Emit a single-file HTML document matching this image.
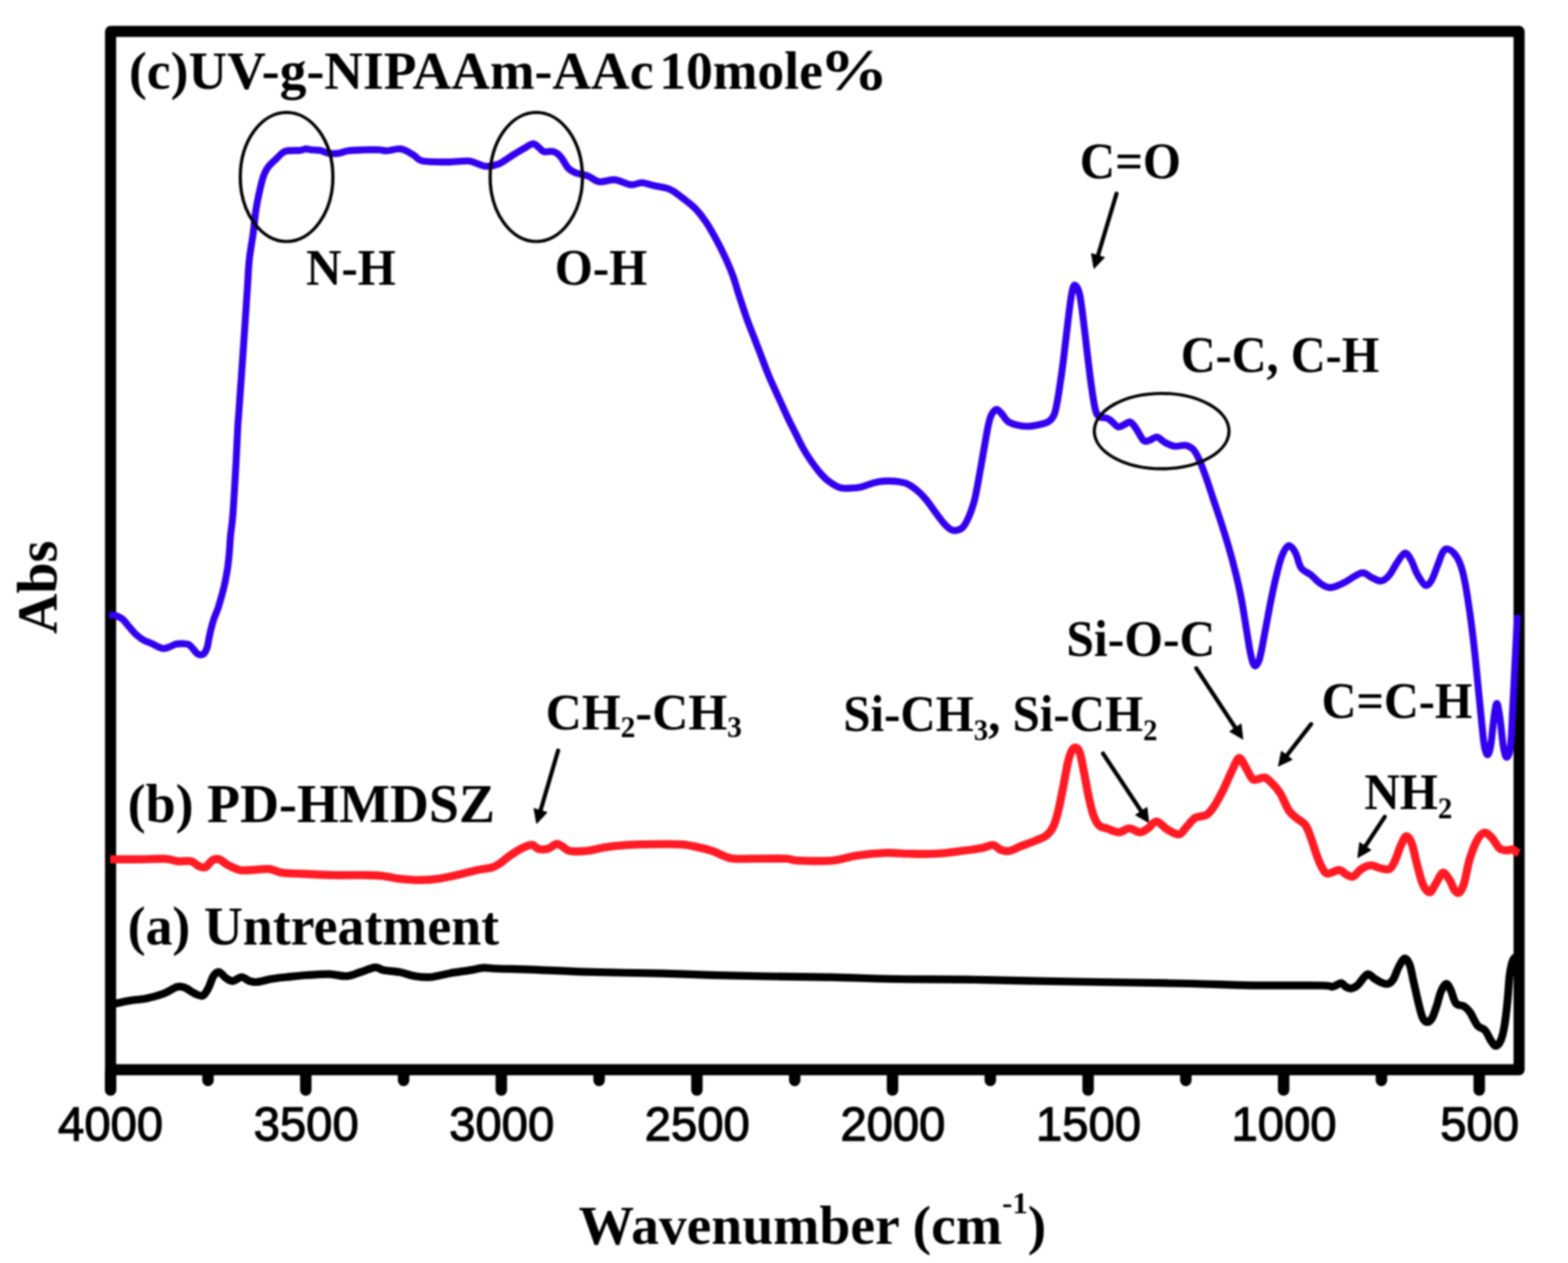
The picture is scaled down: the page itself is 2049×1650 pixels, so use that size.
<!DOCTYPE html>
<html lang="en">
<head>
<meta charset="utf-8">
<title>FTIR spectra</title>
<style>
html,body{margin:0;padding:0;background:#fff;}
body{width:2049px;height:1650px;overflow:hidden;}
svg{display:block;filter:blur(0.8px);}
</style>
</head>
<body>
<svg width="2049" height="1650" viewBox="0 0 2049 1650">
<rect width="2049" height="1650" fill="#fff"/>
<g id="frame" stroke="#000" fill="none" stroke-linecap="round" stroke-linejoin="round">
<rect x="144.5" y="41.1" width="1840.6" height="1356.4" stroke-width="14.5"/>
<line x1="1933.0" y1="1400.5" x2="1933.0" y2="1424" stroke-width="15"/>
<line x1="1677.4" y1="1400.5" x2="1677.4" y2="1424" stroke-width="15"/>
<line x1="1421.9" y1="1400.5" x2="1421.9" y2="1424" stroke-width="15"/>
<line x1="1166.3" y1="1400.5" x2="1166.3" y2="1424" stroke-width="15"/>
<line x1="910.7" y1="1400.5" x2="910.7" y2="1424" stroke-width="15"/>
<line x1="655.1" y1="1400.5" x2="655.1" y2="1424" stroke-width="15"/>
<line x1="399.6" y1="1400.5" x2="399.6" y2="1424" stroke-width="15"/>
<line x1="144.5" y1="1400.5" x2="144.5" y2="1424" stroke-width="15"/>
<line x1="1805.2" y1="1400.5" x2="1805.2" y2="1411.5" stroke-width="15"/>
<line x1="1549.6" y1="1400.5" x2="1549.6" y2="1411.5" stroke-width="15"/>
<line x1="1294.1" y1="1400.5" x2="1294.1" y2="1411.5" stroke-width="15"/>
<line x1="1038.5" y1="1400.5" x2="1038.5" y2="1411.5" stroke-width="15"/>
<line x1="782.9" y1="1400.5" x2="782.9" y2="1411.5" stroke-width="15"/>
<line x1="527.4" y1="1400.5" x2="527.4" y2="1411.5" stroke-width="15"/>
<line x1="271.8" y1="1400.5" x2="271.8" y2="1411.5" stroke-width="15"/>
</g>
<g id="ticks" font-family="'Liberation Sans', sans-serif" font-size="63.7" text-anchor="middle" fill="#000" stroke="#000" stroke-width="1.5">
<text transform="translate(1933.5 1490.3) scale(0.969 1)">500</text>
<text transform="translate(1677.9 1490.3) scale(0.969 1)">1000</text>
<text transform="translate(1422.4 1490.3) scale(0.969 1)">1500</text>
<text transform="translate(1166.8 1490.3) scale(0.969 1)">2000</text>
<text transform="translate(911.2 1490.3) scale(0.969 1)">2500</text>
<text transform="translate(655.6 1490.3) scale(0.969 1)">3000</text>
<text transform="translate(400.1 1490.3) scale(0.969 1)">3500</text>
<text transform="translate(144.5 1490.3) scale(0.969 1)">4000</text>
</g>
<g id="labels" font-family="'Liberation Serif', serif" font-weight="bold" fill="#000">
<text transform="translate(168.5 116) scale(1.0 1)" font-size="70">(c)UV-g-NIPAAm-AAc</text>
<text transform="translate(861.5 116) scale(1.0 1)" font-size="70">10mole</text>
<text transform="translate(1070.8 116.5) scale(1.17 1)" font-size="77">%</text>
<text transform="translate(166.7 1074.3) scale(0.987 1)" font-size="71.5">(b) PD-HMDSZ</text>
<text transform="translate(166.7 1233.8) scale(0.985 1)" font-size="71.5">(a) Untreatment</text>
<text transform="translate(400 372) scale(0.94 1)" font-size="68">N-H</text>
<text transform="translate(725 372) scale(0.94 1)" font-size="68">O-H</text>
<text transform="translate(1411 232.7) scale(0.94 1)" font-size="68">C=O</text>
<text transform="translate(1543 486) scale(0.928 1)" font-size="68">C-C, C-H</text>
<text transform="translate(1393.5 856.7) scale(0.954 1)" font-size="68">Si-O-C</text>
<text transform="translate(1727 938) scale(0.927 1)" font-size="68">C=C-H</text>
<text transform="translate(713 952.5) scale(0.962 1)" font-size="68">CH<tspan font-size="40" dy="10">2</tspan><tspan dy="-10">-CH</tspan><tspan font-size="40" dy="10">3</tspan></text>
<text transform="translate(1102 955) scale(0.94 1)" font-size="68">Si-CH<tspan font-size="40" dy="12">3</tspan><tspan dy="-12">, Si-CH</tspan><tspan font-size="40" dy="12">2</tspan></text>
<text transform="translate(1783 1057) scale(0.94 1)" font-size="68">NH<tspan font-size="40" dy="12">2</tspan></text>
<text transform="translate(756 1624.8) scale(1.009 1)" font-size="72">Wavenumber (cm<tspan font-size="40" dy="-40">-1</tspan><tspan dy="40">)</tspan></text>
<text transform="translate(74.2 828.2) rotate(-90) scale(0.975 1)" font-size="75">Abs</text>
</g>
<g id="arrows">
<line x1="1459.0" y1="253.0" x2="1434.8" y2="333.8" stroke="#000" stroke-width="5.4" stroke-linecap="round"/><polygon points="1429.6,351.0 1426.2,331.2 1443.4,336.3" fill="#000" stroke="#000" stroke-width="1" stroke-linejoin="round"/>
<line x1="729.3" y1="980.5" x2="706.4" y2="1058.7" stroke="#000" stroke-width="5.4" stroke-linecap="round"/><polygon points="701.3,1076.0 697.7,1056.2 715.0,1061.3" fill="#000" stroke="#000" stroke-width="1" stroke-linejoin="round"/>
<line x1="1441.4" y1="984.4" x2="1491.3" y2="1059.7" stroke="#000" stroke-width="5.4" stroke-linecap="round"/><polygon points="1501.2,1074.7 1483.8,1064.7 1498.8,1054.7" fill="#000" stroke="#000" stroke-width="1" stroke-linejoin="round"/>
<line x1="1563.2" y1="873.0" x2="1614.3" y2="950.7" stroke="#000" stroke-width="5.4" stroke-linecap="round"/><polygon points="1624.2,965.7 1606.8,955.6 1621.8,945.7" fill="#000" stroke="#000" stroke-width="1" stroke-linejoin="round"/>
<line x1="1713.3" y1="946.0" x2="1681.6" y2="986.8" stroke="#000" stroke-width="5.4" stroke-linecap="round"/><polygon points="1670.5,1001.0 1674.5,981.3 1688.7,992.3" fill="#000" stroke="#000" stroke-width="1" stroke-linejoin="round"/>
<line x1="1809.6" y1="1067.0" x2="1784.2" y2="1105.6" stroke="#000" stroke-width="5.4" stroke-linecap="round"/><polygon points="1774.3,1120.6 1776.7,1100.6 1791.7,1110.5" fill="#000" stroke="#000" stroke-width="1" stroke-linejoin="round"/>
</g>
<g id="curves" fill="none" stroke-linejoin="round" stroke-linecap="butt">
<path d="M146.0,1312.0C146.9,1311.8 147.5,1311.7 151.6,1310.9C155.7,1310.1 164.1,1308.1 170.7,1307.0C177.3,1305.9 183.8,1306.0 191.0,1304.5C198.2,1303.0 207.2,1300.5 214.0,1298.0C220.8,1295.5 227.1,1290.5 231.8,1289.2C236.5,1288.0 238.2,1289.0 242.0,1290.5C245.8,1292.0 250.9,1296.3 254.7,1298.0C258.5,1299.7 261.9,1302.0 264.9,1300.7C267.9,1299.5 270.2,1294.8 272.5,1290.5C274.8,1286.2 276.6,1278.6 278.9,1275.2C281.2,1271.8 283.8,1269.6 286.5,1270.0C289.2,1270.4 292.4,1275.9 295.4,1277.8C298.4,1279.7 300.9,1281.8 304.3,1281.6C307.7,1281.4 312.2,1276.5 315.8,1276.5C319.4,1276.5 322.6,1280.5 326.0,1281.6C329.4,1282.7 331.3,1283.3 336.0,1282.9C340.7,1282.5 347.6,1280.1 354.0,1279.0C360.4,1277.9 366.7,1277.3 374.3,1276.5C381.9,1275.7 390.5,1274.6 399.8,1274.0C409.1,1273.4 421.4,1272.5 430.3,1272.7C439.2,1272.9 446.2,1275.7 453.0,1275.2C459.8,1274.8 464.8,1271.9 471.0,1270.0C477.2,1268.1 484.9,1264.2 490.0,1263.8C495.1,1263.4 496.3,1266.6 501.6,1267.6C506.9,1268.6 515.2,1268.7 522.0,1270.0C528.8,1271.3 535.5,1274.1 542.3,1275.2C549.1,1276.3 555.1,1277.1 562.7,1276.5C570.3,1275.9 579.5,1272.9 588.0,1271.4C596.5,1269.9 606.3,1268.8 613.6,1267.6C620.9,1266.4 625.9,1264.8 632.0,1264.4C638.1,1264.1 638.7,1265.1 650.0,1265.5C661.3,1265.9 680.6,1266.1 699.6,1266.8C718.6,1267.5 736.7,1268.9 764.0,1269.7C791.3,1270.5 836.2,1271.0 863.5,1271.7C890.8,1272.4 904.6,1273.2 928.0,1273.8C951.4,1274.4 977.7,1275.0 1004.0,1275.5C1030.3,1276.0 1058.2,1276.1 1086.0,1276.7C1113.8,1277.3 1142.3,1278.5 1171.0,1279.0C1199.7,1279.5 1229.3,1279.2 1258.0,1279.6C1286.7,1280.0 1307.3,1280.8 1343.0,1281.4C1378.7,1282.1 1436.3,1282.9 1472.0,1283.5C1507.7,1284.1 1528.7,1284.4 1557.0,1285.0C1585.3,1285.6 1613.5,1286.9 1642.0,1287.3C1670.5,1287.7 1711.2,1287.2 1727.8,1287.5C1744.4,1287.8 1737.4,1289.5 1741.5,1289.0C1745.6,1288.5 1749.4,1284.4 1752.3,1284.4C1755.2,1284.5 1756.7,1288.2 1759.0,1289.3C1761.3,1290.4 1763.4,1291.8 1766.0,1291.3C1768.6,1290.8 1772.0,1288.9 1774.7,1286.4C1777.5,1284.0 1780.2,1278.9 1782.5,1276.6C1784.8,1274.3 1786.1,1272.4 1788.4,1272.7C1790.7,1273.0 1793.4,1276.8 1796.2,1278.6C1799.0,1280.4 1802.1,1282.4 1805.0,1283.5C1807.9,1284.6 1811.1,1286.1 1813.7,1285.4C1816.3,1284.8 1818.3,1283.2 1820.6,1279.6C1822.9,1276.0 1825.0,1268.6 1827.4,1264.0C1829.8,1259.4 1832.8,1252.9 1835.2,1252.2C1837.6,1251.5 1840.0,1255.1 1842.0,1260.0C1844.0,1264.9 1845.2,1273.7 1847.0,1281.5C1848.8,1289.3 1850.9,1299.2 1852.8,1307.0C1854.7,1314.8 1856.6,1323.7 1858.6,1328.4C1860.5,1333.1 1862.4,1334.9 1864.5,1335.2C1866.6,1335.5 1869.2,1333.7 1871.3,1330.3C1873.4,1326.9 1875.2,1320.5 1877.2,1314.7C1879.2,1308.9 1880.9,1300.1 1883.0,1295.2C1885.1,1290.3 1887.8,1285.7 1889.9,1285.4C1892.0,1285.1 1893.6,1289.0 1895.7,1293.2C1897.8,1297.4 1899.7,1307.2 1902.6,1310.8C1905.5,1314.4 1910.2,1312.8 1913.3,1314.7C1916.4,1316.7 1918.1,1318.3 1921.0,1322.5C1923.9,1326.7 1927.6,1336.1 1930.9,1340.0C1934.2,1343.9 1937.7,1342.7 1940.6,1346.0C1943.5,1349.3 1946.1,1356.2 1948.4,1359.6C1950.7,1363.0 1952.2,1366.4 1954.3,1366.4C1956.4,1366.4 1959.0,1364.0 1961.0,1359.6C1963.0,1355.2 1964.5,1348.8 1966.0,1340.0C1967.5,1331.2 1968.9,1318.0 1970.0,1307.0C1971.1,1296.0 1971.7,1282.2 1972.8,1273.7C1973.9,1265.2 1975.1,1260.1 1976.5,1256.0C1977.9,1251.9 1980.2,1250.2 1981.0,1249.0" stroke="#000" stroke-width="10.2"/>
<path d="M144.0,1122.6C150.2,1122.6 168.9,1122.7 181.0,1122.6C193.1,1122.5 208.0,1121.6 216.5,1122.0C225.0,1122.4 226.3,1124.6 231.8,1125.1C237.3,1125.6 244.9,1124.0 249.6,1125.1C254.3,1126.2 256.6,1130.2 259.8,1131.5C263.0,1132.8 265.7,1134.0 268.7,1132.7C271.7,1131.4 274.6,1125.5 277.6,1123.8C280.6,1122.1 283.1,1121.5 286.5,1122.6C289.9,1123.7 293.5,1127.9 298.0,1130.2C302.5,1132.5 308.2,1135.5 313.3,1136.6C318.4,1137.7 322.1,1136.8 328.5,1136.6C334.9,1136.4 344.6,1134.7 351.4,1135.3C358.2,1135.9 361.6,1139.2 369.2,1140.3C376.8,1141.3 386.2,1141.1 397.2,1141.6C408.2,1142.1 422.7,1143.0 435.4,1143.3C448.1,1143.6 463.0,1143.1 473.6,1143.3C484.2,1143.5 490.9,1143.4 499.0,1144.2C507.1,1145.0 513.9,1147.1 522.0,1148.0C530.1,1148.9 538.9,1149.8 547.4,1149.8C555.9,1149.8 564.4,1149.2 572.9,1148.0C581.4,1146.8 589.8,1144.8 598.3,1142.9C606.8,1141.0 616.4,1138.2 623.8,1136.6C631.2,1135.0 637.8,1134.7 642.7,1133.3C647.6,1131.9 649.6,1130.5 653.0,1128.3C656.4,1126.1 659.2,1123.1 663.0,1120.3C666.8,1117.5 671.5,1114.1 675.8,1111.6C680.0,1109.1 685.1,1106.6 688.5,1105.3C691.9,1104.0 693.7,1103.4 696.2,1104.0C698.8,1104.6 700.4,1108.3 703.8,1109.1C707.2,1109.9 712.7,1109.7 716.5,1108.6C720.3,1107.5 723.7,1103.2 726.7,1102.7C729.7,1102.2 731.3,1103.8 734.3,1105.3C737.3,1106.8 739.0,1110.5 744.5,1111.6C750.0,1112.6 758.9,1112.5 767.4,1111.6C775.9,1110.7 784.4,1107.7 795.4,1106.3C806.4,1104.9 820.9,1103.9 833.6,1103.3C846.3,1102.7 862.1,1102.7 871.8,1102.7C881.5,1102.7 885.6,1102.7 892.0,1103.3C898.4,1103.9 903.6,1104.9 910.0,1106.3C916.4,1107.7 924.4,1109.6 930.3,1111.6C936.2,1113.5 940.9,1116.3 945.6,1118.0C950.3,1119.7 951.5,1121.2 958.3,1121.8C965.1,1122.4 974.8,1121.8 986.3,1121.8C997.8,1121.8 1017.7,1121.4 1027.0,1121.8C1036.3,1122.2 1032.1,1123.9 1042.3,1124.3C1052.5,1124.7 1075.4,1125.3 1088.0,1124.3C1100.6,1123.2 1106.6,1119.7 1118.0,1118.0C1129.4,1116.3 1144.9,1114.7 1156.4,1114.2C1167.9,1113.8 1176.0,1115.1 1187.0,1115.3C1198.0,1115.5 1210.7,1115.9 1222.5,1115.3C1234.3,1114.7 1247.8,1112.8 1258.0,1111.6C1268.2,1110.3 1277.0,1109.1 1283.6,1107.8C1290.2,1106.5 1293.6,1103.6 1297.6,1104.0C1301.6,1104.4 1304.2,1109.0 1307.8,1110.3C1311.4,1111.6 1314.5,1112.4 1319.0,1111.6C1323.5,1110.8 1328.5,1107.6 1334.5,1105.3C1340.5,1103.0 1349.4,1099.9 1354.9,1097.6C1360.4,1095.3 1364.0,1094.3 1367.6,1091.3C1371.2,1088.3 1374.0,1085.1 1376.5,1079.8C1379.0,1074.5 1380.8,1067.8 1382.9,1059.3C1385.0,1050.8 1387.1,1039.5 1389.2,1028.9C1391.3,1018.3 1393.7,1003.8 1395.6,995.8C1397.5,987.8 1399.0,983.8 1400.7,980.6C1402.4,977.4 1404.1,976.3 1405.8,976.7C1407.5,977.1 1409.2,978.2 1410.9,983.1C1412.6,988.0 1414.1,996.7 1416.0,1006.0C1417.9,1015.3 1420.2,1029.3 1422.3,1039.1C1424.4,1048.9 1426.4,1058.0 1428.7,1064.6C1431.0,1071.2 1433.3,1075.6 1436.3,1078.6C1439.3,1081.5 1442.2,1080.8 1446.5,1082.3C1450.8,1083.8 1456.9,1087.3 1461.8,1087.3C1466.7,1087.3 1471.1,1082.3 1475.8,1082.3C1480.5,1082.3 1485.8,1087.3 1489.8,1087.3C1493.8,1087.3 1496.4,1084.6 1500.0,1082.3C1503.6,1080.0 1507.2,1073.1 1511.4,1073.3C1515.6,1073.5 1520.5,1080.8 1525.4,1083.6C1530.3,1086.4 1536.5,1090.6 1540.7,1090.0C1545.0,1089.4 1547.4,1083.4 1550.9,1079.8C1554.5,1076.2 1557.7,1070.8 1562.0,1068.3C1566.3,1065.8 1572.5,1067.0 1576.6,1064.6C1580.7,1062.1 1582.7,1059.1 1586.4,1053.6C1590.1,1048.1 1594.5,1039.7 1598.6,1031.6C1602.7,1023.5 1607.3,1011.7 1610.8,1004.8C1614.2,997.9 1616.5,990.6 1619.3,990.2C1622.1,989.8 1624.8,997.6 1627.8,1002.3C1630.8,1007.0 1633.5,1016.0 1637.6,1018.3C1641.7,1020.5 1648.1,1015.0 1652.2,1015.8C1656.3,1016.6 1658.5,1019.6 1662.0,1023.1C1665.5,1026.5 1669.3,1030.6 1673.0,1036.5C1676.7,1042.4 1680.5,1053.2 1684.0,1058.5C1687.5,1063.8 1690.0,1065.0 1693.7,1068.3C1697.4,1071.5 1702.6,1073.5 1705.9,1078.0C1709.2,1082.5 1710.8,1088.6 1713.3,1095.1C1715.8,1101.6 1718.2,1110.6 1720.6,1117.1C1723.0,1123.6 1725.5,1130.1 1727.9,1134.1C1730.3,1138.1 1731.5,1140.9 1735.2,1141.3C1738.9,1141.7 1745.8,1136.4 1749.9,1136.6C1754.0,1136.8 1756.5,1141.3 1759.6,1142.7C1762.6,1144.1 1765.0,1146.3 1768.2,1145.1C1771.4,1143.9 1775.2,1137.7 1779.0,1135.3C1782.8,1132.9 1787.2,1130.7 1791.3,1130.5C1795.4,1130.3 1799.4,1133.3 1803.5,1134.1C1807.6,1134.9 1812.5,1136.9 1815.7,1135.3C1819.0,1133.7 1820.5,1129.4 1823.0,1124.3C1825.5,1119.2 1828.0,1110.1 1830.4,1104.8C1832.9,1099.5 1835.3,1093.0 1837.7,1092.6C1840.1,1092.2 1842.6,1095.8 1845.0,1102.3C1847.4,1108.8 1849.8,1122.7 1852.3,1131.7C1854.8,1140.7 1857.0,1150.4 1859.7,1156.1C1862.4,1161.8 1865.4,1166.2 1868.2,1165.8C1871.0,1165.4 1873.9,1157.9 1876.7,1153.6C1879.5,1149.3 1882.5,1141.0 1885.3,1140.2C1888.1,1139.4 1891.2,1145.0 1893.8,1148.8C1896.4,1152.6 1898.8,1160.5 1901.0,1163.3C1903.2,1166.1 1905.2,1167.4 1907.2,1165.8C1909.2,1164.2 1911.0,1160.9 1913.3,1153.6C1915.5,1146.3 1917.8,1131.3 1920.7,1121.9C1923.6,1112.5 1927.2,1103.0 1930.4,1097.3C1933.7,1091.6 1936.9,1088.2 1940.2,1087.8C1943.5,1087.4 1946.8,1091.6 1950.0,1095.1C1953.2,1098.5 1956.5,1105.9 1959.7,1108.5C1963.0,1111.1 1966.7,1110.7 1969.5,1110.9C1972.3,1111.1 1974.9,1109.2 1976.8,1109.5C1978.7,1109.8 1979.6,1112.0 1981.0,1112.8C1982.4,1113.6 1984.3,1114.0 1985.0,1114.3" stroke="#ff1a24" stroke-width="10.6"/>
<path d="M142.5,803.2C143.2,803.3 145.3,803.4 147.0,803.6C148.7,803.9 150.5,803.8 152.7,804.7C154.9,805.6 157.8,806.8 160.3,809.0C162.9,811.2 165.2,814.8 168.0,818.0C170.8,821.2 173.6,825.0 176.8,828.0C180.0,831.0 183.6,833.8 187.0,835.8C190.4,837.8 193.8,838.7 197.0,840.2C200.2,841.7 203.2,843.5 206.0,844.7C208.8,845.9 211.1,847.1 213.6,847.2C216.1,847.3 218.5,846.2 221.2,845.3C223.9,844.3 227.0,842.2 230.0,841.5C233.0,840.8 236.2,840.8 239.0,840.9C241.8,841.0 244.3,840.7 246.6,842.0C248.9,843.3 251.1,846.5 253.0,848.5C254.9,850.5 256.4,853.0 258.0,854.2C259.6,855.4 261.0,855.6 262.5,855.5C264.0,855.4 265.5,855.2 266.9,853.6C268.3,852.0 269.6,849.4 270.7,846.0C271.8,842.6 272.2,837.7 273.2,833.2C274.1,828.8 275.2,823.7 276.4,819.3C277.6,814.9 278.8,810.6 280.2,806.6C281.6,802.6 283.3,799.2 284.7,795.2C286.1,791.2 287.2,787.0 288.5,782.5C289.8,778.0 291.1,773.4 292.3,768.5C293.5,763.6 294.6,758.4 295.5,753.3C296.4,748.2 297.3,743.7 298.0,738.0C298.7,732.3 299.4,725.3 299.9,719.0C300.4,712.7 300.5,707.7 301.2,700.0C301.9,692.3 303.1,687.9 304.3,672.7C305.5,657.5 307.1,628.1 308.2,609.0C309.3,589.9 310.1,569.7 310.7,558.2C311.3,546.7 310.7,557.9 312.0,540.0C313.3,522.1 316.4,478.6 318.3,451.0C320.2,423.4 322.2,393.0 323.4,374.5C324.6,356.0 324.5,351.6 325.7,340.0C326.9,328.4 329.3,316.1 330.8,305.0C332.3,293.9 333.1,282.7 334.6,273.2C336.1,263.7 337.9,255.3 339.6,247.9C341.3,240.5 342.8,233.9 344.7,228.8C346.6,223.7 348.2,221.0 351.0,217.4C353.8,213.8 357.6,210.6 361.2,207.3C364.8,204.0 367.5,199.5 372.6,197.7C377.7,195.9 387.1,197.0 391.7,196.5C396.3,196.0 397.5,194.7 400.0,194.6C402.5,194.5 403.8,195.5 406.9,195.8C409.9,196.1 414.5,195.8 418.3,196.5C422.1,197.2 425.7,199.7 429.7,200.3C433.7,200.9 438.2,200.9 442.4,200.3C446.6,199.8 449.3,197.8 455.0,197.0C460.7,196.2 469.9,196.0 476.7,195.8C483.5,195.6 490.8,195.6 495.7,195.8C500.6,196.0 501.2,197.2 505.9,197.0C510.5,196.8 517.9,193.7 523.6,194.6C529.3,195.5 535.2,199.6 540.0,202.2C544.8,204.8 544.5,208.8 552.5,210.4C560.5,212.0 577.8,211.6 588.0,211.6C598.2,211.6 606.1,209.5 613.6,210.4C621.1,211.3 626.8,216.3 633.0,217.0C639.2,217.7 644.6,217.0 651.0,214.5C657.4,212.0 665.4,205.4 671.3,201.8C677.2,198.2 682.3,195.2 686.5,192.9C690.7,190.6 693.7,187.8 696.7,187.8C699.7,187.8 702.1,191.2 704.4,192.9C706.7,194.6 707.5,197.2 710.7,198.0C713.9,198.8 719.8,196.9 723.4,198.0C727.0,199.1 729.2,200.8 732.4,204.4C735.6,208.0 739.1,216.0 742.5,219.6C745.9,223.2 748.5,224.3 752.7,226.0C757.0,227.7 762.9,227.9 768.0,229.8C773.1,231.7 777.4,236.6 783.3,237.4C789.2,238.2 796.8,234.2 803.6,234.9C810.4,235.6 818.1,240.7 824.0,241.3C829.9,241.9 834.1,238.5 839.2,238.7C844.3,238.9 849.4,241.4 854.5,242.5C859.6,243.6 865.5,244.3 869.8,245.5C874.0,246.7 875.7,247.1 880.0,249.8C884.3,252.5 890.7,257.6 895.6,261.5C900.5,265.4 904.7,268.3 909.3,273.2C913.9,278.1 918.5,284.0 923.0,290.8C927.5,297.6 932.4,306.4 936.6,314.2C940.8,322.0 944.7,329.8 948.3,337.6C951.9,345.4 955.1,352.9 958.0,361.0C960.9,369.1 962.9,377.3 965.9,386.4C968.9,395.5 972.5,406.6 975.7,415.7C979.0,424.8 982.1,432.5 985.4,441.0C988.6,449.5 991.9,458.0 995.2,466.5C998.5,475.0 1000.9,482.1 1005.0,491.8C1009.1,501.6 1015.9,515.9 1020.0,525.0C1024.1,534.1 1026.5,539.6 1029.8,546.4C1033.0,553.2 1036.2,559.4 1039.5,565.9C1042.8,572.4 1046.0,579.5 1049.3,585.4C1052.5,591.2 1055.4,595.8 1059.0,601.0C1062.6,606.2 1066.9,612.1 1070.8,616.7C1074.7,621.3 1078.0,625.0 1082.5,628.4C1087.0,631.8 1093.1,635.7 1098.0,637.2C1102.9,638.8 1107.2,637.9 1111.8,637.7C1116.4,637.5 1121.2,637.1 1125.4,636.2C1129.6,635.3 1133.1,633.4 1137.0,632.3C1140.9,631.1 1144.9,629.9 1148.8,629.3C1152.7,628.6 1156.4,628.4 1160.6,628.4C1164.8,628.4 1170.0,628.6 1174.2,629.3C1178.4,629.9 1182.1,630.5 1186.0,632.3C1189.9,634.1 1193.7,636.8 1197.6,640.0C1201.5,643.2 1205.5,647.2 1209.4,651.8C1213.3,656.4 1217.1,662.2 1221.0,667.4C1224.9,672.6 1229.2,678.9 1232.8,683.0C1236.4,687.1 1239.6,690.2 1242.5,691.8C1245.4,693.4 1247.8,693.3 1250.4,692.8C1253.0,692.3 1255.6,691.8 1258.2,688.9C1260.8,686.0 1263.6,680.7 1266.0,675.2C1268.4,669.7 1270.8,662.9 1272.8,655.7C1274.8,648.6 1276.1,640.8 1277.7,632.3C1279.3,623.8 1281.0,614.1 1282.6,605.0C1284.2,595.9 1285.9,585.8 1287.4,577.6C1288.9,569.4 1290.1,561.9 1291.4,556.0C1292.7,550.1 1293.5,546.0 1295.3,542.5C1297.1,539.0 1299.7,535.0 1302.0,534.7C1304.3,534.4 1306.5,537.9 1309.0,540.5C1311.5,543.1 1313.5,547.8 1316.7,550.3C1319.9,552.8 1324.2,554.1 1328.4,555.2C1332.6,556.3 1337.4,557.0 1342.0,557.0C1346.6,557.0 1351.2,556.2 1355.8,555.2C1360.4,554.2 1365.8,553.4 1369.4,551.3C1373.0,549.2 1375.3,546.4 1377.2,542.5C1379.1,538.6 1379.9,533.0 1381.0,528.0C1382.1,523.0 1382.6,519.0 1383.6,512.7C1384.6,506.4 1385.9,497.6 1387.0,490.0C1388.1,482.4 1389.0,475.6 1390.0,467.3C1391.0,459.0 1392.1,449.1 1393.2,440.0C1394.3,430.9 1395.2,422.2 1396.4,412.7C1397.6,403.2 1399.2,389.7 1400.6,383.0C1401.9,376.3 1402.8,372.3 1404.5,372.5C1406.2,372.7 1408.8,376.2 1410.7,384.0C1412.6,391.8 1414.1,405.9 1415.8,419.0C1417.5,432.1 1419.2,448.3 1420.9,462.3C1422.6,476.3 1424.3,491.1 1426.0,503.0C1427.7,514.9 1429.3,526.7 1431.0,533.6C1432.7,540.5 1433.5,542.2 1436.1,544.3C1438.6,546.4 1443.6,545.3 1446.3,546.3C1449.0,547.2 1449.8,548.1 1452.2,550.0C1454.7,551.9 1458.2,556.8 1461.0,557.6C1463.8,558.4 1466.1,556.0 1468.7,555.0C1471.3,554.0 1473.9,550.6 1476.4,551.3C1479.0,551.9 1481.0,554.9 1484.0,558.9C1487.0,562.9 1491.2,572.6 1494.2,575.4C1497.2,578.1 1498.8,576.1 1501.8,575.4C1504.8,574.7 1508.6,570.6 1512.0,571.0C1515.4,571.4 1518.4,576.0 1522.2,578.0C1526.0,580.0 1530.5,582.4 1534.9,583.0C1539.4,583.6 1544.9,581.1 1548.9,581.8C1552.9,582.4 1556.0,583.9 1559.0,586.9C1562.0,589.9 1563.9,593.7 1566.7,599.6C1569.5,605.5 1572.4,613.6 1575.6,622.5C1578.8,631.4 1582.4,642.8 1585.8,653.0C1589.2,663.2 1592.6,673.0 1596.0,683.6C1599.4,694.2 1603.0,705.7 1606.2,716.7C1609.4,727.7 1612.2,738.3 1615.0,749.8C1617.8,761.2 1620.4,773.1 1622.7,785.4C1625.0,797.7 1627.1,812.2 1629.0,823.6C1630.9,835.0 1632.5,846.4 1634.2,854.0C1635.9,861.6 1637.3,868.1 1639.2,869.4C1641.1,870.7 1643.5,868.2 1645.6,861.8C1647.7,855.4 1649.7,843.1 1652.0,831.2C1654.3,819.3 1657.1,803.2 1659.6,790.5C1662.1,777.8 1664.7,765.5 1667.2,754.9C1669.8,744.3 1672.1,733.9 1674.9,726.9C1677.7,719.9 1680.8,713.8 1683.8,712.9C1686.8,712.0 1690.0,716.9 1692.7,721.8C1695.5,726.6 1696.9,737.1 1700.3,742.0C1703.7,746.9 1708.8,747.6 1713.0,751.0C1717.2,754.4 1721.5,759.7 1725.8,762.5C1730.0,765.3 1733.4,767.8 1738.5,767.6C1743.6,767.4 1749.5,764.4 1756.3,761.2C1763.1,758.0 1773.2,749.6 1779.2,748.5C1785.2,747.4 1788.2,752.6 1792.4,754.4C1796.7,756.1 1800.9,759.4 1804.7,759.0C1808.5,758.6 1811.6,755.9 1815.0,752.0C1818.4,748.1 1821.9,740.5 1825.3,735.6C1828.7,730.7 1832.5,723.3 1835.6,722.6C1838.7,721.9 1841.2,726.9 1843.9,731.5C1846.6,736.1 1848.9,744.5 1852.0,750.0C1855.1,755.5 1859.3,763.1 1862.4,764.5C1865.5,765.9 1867.8,762.8 1870.6,758.3C1873.3,753.8 1876.5,743.7 1878.9,737.7C1881.3,731.7 1883.1,725.7 1885.0,722.2C1886.9,718.8 1887.8,717.0 1890.2,717.0C1892.6,717.0 1896.6,719.1 1899.5,722.2C1902.4,725.3 1905.3,729.6 1907.7,735.6C1910.1,741.6 1911.9,748.3 1913.9,758.3C1916.0,768.3 1917.9,781.0 1920.0,795.4C1922.1,809.8 1924.2,826.3 1926.3,844.8C1928.4,863.3 1930.8,889.4 1932.5,906.6C1934.2,923.8 1935.4,936.5 1936.6,947.8C1937.8,959.1 1938.5,968.2 1939.7,974.6C1940.9,981.0 1942.4,986.0 1943.8,986.0C1945.2,986.0 1946.5,982.3 1947.9,974.6C1949.3,966.9 1950.7,948.9 1952.0,939.6C1953.3,930.3 1954.6,919.0 1956.0,919.0C1957.4,919.0 1958.9,930.3 1960.3,939.6C1961.7,948.9 1963.0,966.4 1964.4,974.6C1965.8,982.8 1967.0,988.6 1968.5,989.0C1970.0,989.4 1972.3,987.0 1973.7,976.7C1975.1,966.4 1975.7,945.8 1976.7,927.2C1977.7,908.7 1978.8,886.0 1979.8,865.4C1980.8,844.8 1982.5,813.9 1983.0,803.6" stroke="#3200ee" stroke-width="9.1"/>
</g>
<g id="ell" fill="none" stroke="#000" stroke-width="4.2">
<ellipse cx="374.5" cy="231.2" rx="60.5" ry="84.3"/>
<ellipse cx="700.8" cy="231.2" rx="60.3" ry="84.3"/>
<ellipse cx="1518" cy="563.2" rx="88" ry="49.2"/>
</g>
</svg>
</body>
</html>
